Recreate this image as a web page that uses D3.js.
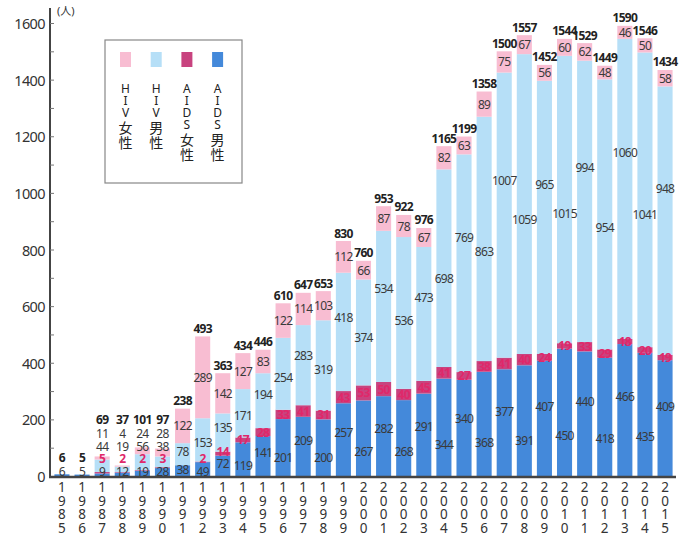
<!DOCTYPE html>
<html>
<head>
<meta charset="utf-8">
<script src="https://cdn.jsdelivr.net/npm/d3@7"></script>
<style>
  body { margin: 0; background: #fff; }
  svg { display: block; font-family: "Noto Sans", "Noto Sans CJK JP", sans-serif; }
</style>
</head>
<body>
<div id="chart"></div>
<script>
const years = ["1985","1986","1987","1988","1989","1990","1991","1992","1993","1994",
  "1995","1996","1997","1998","1999","2000","2001","2002","2003","2004",
  "2005","2006","2007","2008","2009","2010","2011","2012","2013","2014","2015"];
const aidsMale = [6,5,9,12,19,28,38,49,72,119,141,201,209,200,257,267,282,268,291,344,
  340,368,377,391,407,450,440,418,466,435,409];
const aidsFemale = [0,0,5,2,2,3,0,2,14,17,28,33,41,31,43,53,50,40,45,41,
  27,38,41,40,24,19,33,29,18,20,19];
const hivMale = [0,0,44,19,56,38,78,153,135,171,194,254,283,319,418,374,534,536,473,698,
  769,863,1007,1059,965,1015,994,954,1060,1041,948];
const hivFemale = [0,0,11,4,24,28,122,289,142,127,83,122,114,103,112,66,87,78,67,82,
  63,89,75,67,56,60,62,48,46,50,58];
// totals as printed above each bar (2003 is printed as 976 in the source)
const totalLabels = [6,5,69,37,101,97,238,493,363,434,446,610,647,653,830,760,953,922,976,1165,
  1199,1358,1500,1557,1452,1544,1529,1449,1590,1546,1434];
const seriesKeys = ["aidsMale", "aidsFemale", "hivMale", "hivFemale"];
const legendNames = ["HIV女性", "HIV男性", "AIDS女性", "AIDS男性"];
const legendKeys = ["hivFemale", "hivMale", "aidsFemale", "aidsMale"];
const yTicks = [0,200,400,600,800,1000,1200,1400,1600];

function HivChart() {
  let params = {
    width: 693,
    height: 537,
    colors: {
      hivFemale: "#f8bdd2",
      hivMale: "#b6dff7",
      aidsFemale: "#c8437f",
      aidsMale: "#4489da"
    }
  };

  function my(selection) {
    let svg = selection.append("svg")
      .attr("width", params.width)
      .attr("height", params.height);

    let rows = years.map((y, i) => ({
      year: y,
      aidsMale: aidsMale[i],
      aidsFemale: aidsFemale[i],
      hivMale: hivMale[i],
      hivFemale: hivFemale[i],
      total: totalLabels[i]
    }));

    let stacked = d3.stack().keys(seriesKeys)(rows);

    let scaleX = d3.scaleBand()
      .domain(years)
      .range([52, 675])
      .paddingInner(0.25)
      .paddingOuter(0.12);

    let scaleY = d3.scaleLinear()
      .domain([0, 1600])
      .range([476, 23]);

    // bars
    svg.append("g")
      .selectAll("g")
      .data(stacked)
      .enter()
      .append("g")
      .attr("fill", d => params.colors[d.key])
      .selectAll("rect")
      .data(d => d)
      .enter()
      .append("rect")
      .attr("x", d => scaleX(d.data.year))
      .attr("width", scaleX.bandwidth())
      .attr("y", d => scaleY(d[1]))
      .attr("height", d => scaleY(d[0]) - scaleY(d[1]));

    // value labels: staggered on neighbouring bars, pushed up when they would overlap
    let labelG = svg.append("g").attr("font-size", 12);
    rows.forEach((row, i) => {
      let prev = 485;
      let cx = scaleX(row.year) + scaleX.bandwidth() / 2;
      stacked.forEach(s => {
        let seg = s[i];
        let v = seg[1] - seg[0];
        if (v <= 0) return;
        let f = 0.5;
        if (s.key === "aidsMale") f = i % 2 ? 0.32 : 0.6;
        if (s.key === "hivMale") f = i % 2 ? 0.45 : 0.62;
        let y = Math.min(scaleY(seg[0] + v * f), 471, prev - 12.5);
        prev = y;
        labelG.append("text")
          .attr("x", cx)
          .attr("y", y)
          .attr("text-anchor", "middle")
          .attr("dominant-baseline", "central")
          .attr("fill", s.key === "aidsFemale" ? "#e0286a" : "#3a3a3a")
          .attr("font-weight", s.key === "aidsFemale" ? 700 : 400)
          .attr("letter-spacing", -0.7)
          .text(v);
      });
      let top = scaleY(aidsMale[i] + aidsFemale[i] + hivMale[i] + hivFemale[i]);
      let ty = Math.min(top - 8, prev - 14);
      labelG.append("text")
        .attr("x", cx)
        .attr("y", ty)
        .attr("text-anchor", "middle")
        .attr("dominant-baseline", "central")
        .attr("fill", "#222")
        .attr("font-weight", 700)
        .attr("letter-spacing", -0.7)
        .text(row.total);
    });

    // y axis
    let axisLeft = d3.axisRight(scaleY)
      .tickValues(d3.range(0, 1700, 100))
      .tickSize(4)
      .tickFormat("");
    let yAxis = svg.append("g")
      .attr("transform", "translate(50,0)")
      .call(axisLeft);
    yAxis.select(".domain").attr("stroke", "#444").attr("stroke-width", 2)
      .attr("d", "M0,476V8");
    yAxis.selectAll(".tick line").attr("stroke", "#777");

    svg.append("g")
      .selectAll("text")
      .data(yTicks)
      .enter()
      .append("text")
      .attr("x", 45)
      .attr("y", d => scaleY(d))
      .attr("text-anchor", "end")
      .attr("dominant-baseline", "central")
      .attr("font-size", 14.5)
      .attr("fill", "#333")
      .attr("letter-spacing", -0.6)
      .text(d => d);

    svg.append("text")
      .attr("x", 57)
      .attr("y", 15)
      .attr("font-size", 11)
      .attr("fill", "#333")
      .text("(人)");

    // x axis line
    svg.append("line")
      .attr("x1", 49).attr("x2", 676)
      .attr("y1", 477).attr("y2", 477)
      .attr("stroke", "#444")
      .attr("stroke-width", 2.5);

    // year labels, one digit per line
    let yearG = svg.append("g")
      .attr("font-size", 13.5)
      .attr("fill", "#333")
      .attr("text-anchor", "middle")
      .attr("dominant-baseline", "central");
    years.forEach(y => {
      let cx = scaleX(y) + scaleX.bandwidth() / 2;
      y.split("").forEach((c, j) => {
        yearG.append("text")
          .attr("x", cx)
          .attr("y", 487 + j * 13.5)
          .text(c);
      });
    });

    // legend
    let legend = svg.append("g");
    legend.append("rect")
      .attr("x", 105).attr("y", 40)
      .attr("width", 137).attr("height", 143)
      .attr("fill", "#fff")
      .attr("stroke", "#888")
      .attr("stroke-width", 1.2);
    legendKeys.forEach((k, i) => {
      let cx = 125.5 + i * 30.7;
      legend.append("rect")
        .attr("x", cx - 5.5).attr("y", 52)
        .attr("width", 11).attr("height", 15)
        .attr("fill", params.colors[k]);
      let y = 88;
      legendNames[i].split("").forEach((c, j) => {
        let cjk = /[^\x00-\x7f]/.test(c);
        if (j > 0) y += cjk ? 15 : 12;
        legend.append("text")
          .attr("x", cx)
          .attr("y", y)
          .attr("text-anchor", "middle")
          .attr("dominant-baseline", "central")
          .attr("font-size", cjk ? 14 : 12)
          .attr("fill", "#222")
          .text(c);
      });
    });
  }

  return my;
}

d3.select("#chart").call(HivChart());
</script>
</body>
</html>
